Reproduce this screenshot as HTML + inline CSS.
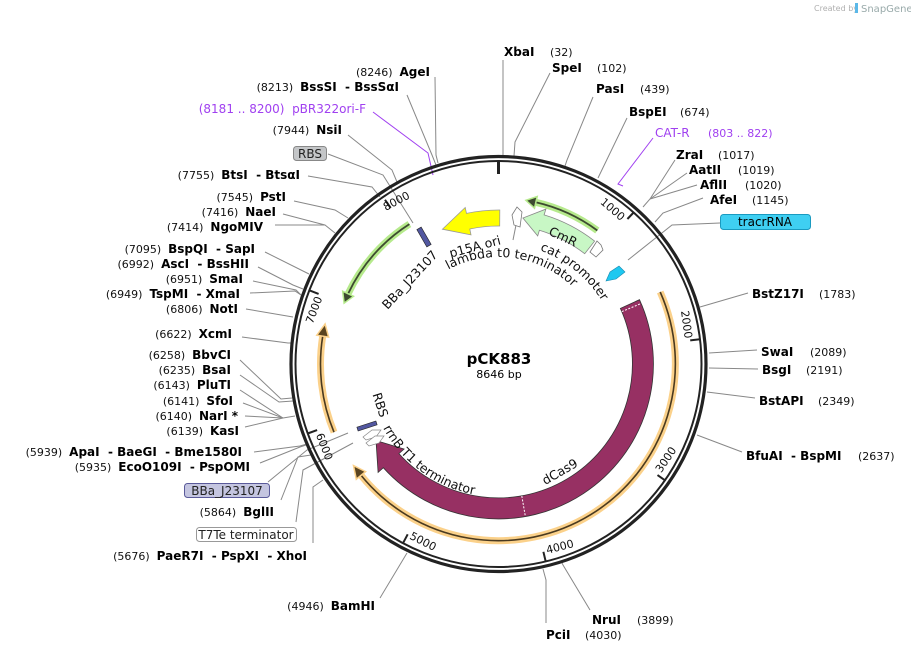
<!DOCTYPE html>
<html><head><meta charset="utf-8"><style>
html,body{margin:0;padding:0;background:#fff;}
svg{display:block;font-family:"DejaVu Sans","Liberation Sans",sans-serif;}
text{white-space:pre;}
.n{font-size:11px;fill:#111;}
.b{font-size:12px;font-weight:bold;fill:#000;}
.l{stroke:#888;stroke-width:1;fill:none;}
.t{font-size:11px;fill:#111;}
.f{font-size:12.5px;fill:#111;}
</style></head><body>
<svg width="911" height="653" viewBox="0 0 911 653" xmlns="http://www.w3.org/2000/svg">
<text x="814" y="11" font-size="8" fill="#b0b0b0">Created by</text>
<rect x="855" y="3" width="3" height="10" fill="#5bb8e8"/>
<text x="861" y="12" font-size="10" fill="#9aa">SnapGene</text>

<!-- connector lines -->
<g class="l">
<polyline points="503,60 503,156"/>
<polyline points="550,73 515,142 514,156"/>
<polyline points="593,97 567,160 565,166"/>
<polyline points="627,118 598,178"/>
<polyline points="675,160 650,199 643,207"/>
<polyline points="687,173 650,199"/>
<polyline points="697,185 650,199"/>
<polyline points="703,198 663,213 655,222"/>
<polyline points="720,223 672,225 628,260"/>
<polyline points="748,293 700,307"/>
<polyline points="757,350 709,353"/>
<polyline points="758,369 709,368"/>
<polyline points="755,398 707,392"/>
<polyline points="742,452 697,435"/>
<polyline points="590,610 563,565 562,563"/>
<polyline points="546,623 546,580 543,569"/>
<polyline points="380,598 407,553"/>
<polyline points="313,543 313,487 323,480"/>
<polyline points="296,522 303,470 353,443"/>
<polyline points="281,500 298,457 311,455"/>
<polyline points="268,482 307,450 348,433"/>
<polyline points="260,463 300,447 306,445"/>
<polyline points="254,452 300,446 307,444"/>
<polyline points="245,427 283,418 295,416"/>
<polyline points="245,416 283,418"/>
<polyline points="243,403 283,418"/>
<polyline points="240,390 283,418"/>
<polyline points="240,375 279,402 293,401"/>
<polyline points="240,360 281,399 292,398"/>
<polyline points="242,337 288,343 291,343"/>
<polyline points="246,309 293,317"/>
<polyline points="250,293 295,291 301,295"/>
<polyline points="253,281 296,290 301,295"/>
<polyline points="258,267 293,285 303,289"/>
<polyline points="265,252 309,274"/>
<polyline points="275,225 325,225 335,233"/>
<polyline points="283,214 325,225"/>
<polyline points="294,201 335,210 348,218"/>
<polyline points="308,176 372,187 380,197"/>
<polyline points="328,154 383,175 413,223"/>
<polyline points="348,135 392,170 397,182"/>
<polyline points="407,95 432,155 436,165"/>
<polyline points="435,77 436,155 438,163"/>
<polyline points="513,240 516,225"/>
</g>
<polyline points="373,112 428,153 433,175" stroke="#a040f0" fill="none" stroke-width="1"/>
<polyline points="653,138 618,184 623,186" stroke="#a040f0" fill="none" stroke-width="1"/>

<!-- backbone -->
<circle cx="498.5" cy="364" r="207.5" fill="none" stroke="#222" stroke-width="3.2"/>
<circle cx="498.5" cy="364" r="203" fill="none" stroke="#222" stroke-width="2"/>
<line x1="498.5" y1="161" x2="498.5" y2="174" stroke="#222" stroke-width="3"/>

<!-- ticks -->
<g stroke="#222" stroke-width="2">
<line x1="634.1" y1="212" x2="627.4" y2="219"/>
<line x1="700.1" y1="339.2" x2="690.2" y2="340.4"/>
<line x1="665.7" y1="480.8" x2="657.5" y2="475.1"/>
<line x1="545.7" y1="561.5" x2="543.4" y2="551.8"/>
<line x1="403.0" y1="543.2" x2="407.7" y2="534.3"/>
<line x1="307.7" y1="433.5" x2="317.1" y2="430.1"/>
<line x1="309.3" y1="290.3" x2="318.6" y2="293.9"/>
<line x1="385.0" y1="199.8" x2="390.7" y2="208.0"/>
</g>
<g class="t">
<text transform="rotate(40.6 498.5 364)" x="498.5" y="176" text-anchor="end">1000</text>
<text transform="rotate(82.3 498.5 364)" x="498.5" y="176" text-anchor="end">2000</text>
<text transform="rotate(123.9 498.5 364) rotate(180 498.5 168)" x="498.5" y="168">3000</text>
<text transform="rotate(165.6 498.5 364) rotate(180 498.5 168)" x="498.5" y="168">4000</text>
<text transform="rotate(207.2 498.5 364) rotate(180 498.5 168)" x="498.5" y="168">5000</text>
<text transform="rotate(248.8 498.5 364) rotate(180 498.5 168)" x="498.5" y="168">6000</text>
<text transform="rotate(290.5 498.5 364)" x="498.5" y="176" text-anchor="end">7000</text>
<text transform="rotate(332.1 498.5 364)" x="498.5" y="176" text-anchor="end">8000</text>
</g>

<!-- orange arcs -->
<path d="M660.2,292 A177 177 0 0 1 361,475.3" fill="none" stroke="#fbd18a" stroke-width="7"/>
<path d="M660.2,292 A177 177 0 0 1 361,475.3" fill="none" stroke="#4a3a20" stroke-width="1.6"/>
<polygon points="353.5,465.6 365.6,471.6 356.3,479.2" fill="#5a4420" stroke="#fbd18a" stroke-width="1.5"/>
<path d="M334,432.2 A178 178 0 0 1 322.7,336.2" fill="none" stroke="#fbd18a" stroke-width="7"/>
<path d="M334,432.2 A178 178 0 0 1 322.7,336.2" fill="none" stroke="#4a3a20" stroke-width="1.6"/>
<polygon points="325.1,324 328.6,337.1 316.8,335.2" fill="#5a4420" stroke="#fbd18a" stroke-width="1.5"/>

<!-- green arcs -->
<path d="M597.3,230.5 A166 166 0 0 0 535.8,202.3" fill="none" stroke="#b6ea8c" stroke-width="7"/>
<path d="M597.3,230.5 A166 166 0 0 0 535.8,202.3" fill="none" stroke="#3d4a30" stroke-width="1.8"/>
<polygon points="525.9,200.3 534.5,208.2 537.2,196.5" fill="#3d4a30" stroke="#b6ea8c" stroke-width="1.5"/>
<path d="M409.4,224.1 A166 166 0 0 0 348.1,293.8" fill="none" stroke="#b6ea8c" stroke-width="7"/>
<path d="M409.4,224.1 A166 166 0 0 0 348.1,293.8" fill="none" stroke="#3d4a30" stroke-width="1.8"/>
<polygon points="344.1,303.1 353.5,296.3 342.7,291.2" fill="#3d4a30" stroke="#b6ea8c" stroke-width="1.5"/>

<!-- dCas9 -->
<path d="M639.5,299.7 A155 155 0 0 1 383.3,467.7 L378.1,472.4 L376,440.6 L404.1,449 L398.9,453.6 A134 134 0 0 0 620.4,308.4 Z" fill="#973063" stroke="#333" stroke-width="0.8"/>
<line x1="621.9" y1="311.6" x2="641.3" y2="303.4" stroke="#fff" stroke-width="1" stroke-dasharray="2,1.5"/>
<line x1="521.8" y1="496" x2="525.4" y2="516.6" stroke="#fff" stroke-width="1" stroke-dasharray="2,1.5"/>

<!-- p15A ori -->
<path d="M499.8,210 A154 154 0 0 0 466.5,213.4 L465.2,207.5 L442.4,229.2 L471,234.9 L469.8,229 A138 138 0 0 1 499.7,226 Z" fill="#ffff00" stroke="#999" stroke-width="0.8"/>
<!-- CmR -->
<path d="M594.6,241.1 A156 156 0 0 0 544.1,214.9 L545.9,209.1 L522.9,218 L537.7,235.9 L539.4,230.2 A140 140 0 0 1 584.7,253.7 Z" fill="#c8f7c5" stroke="#888" stroke-width="0.8"/>
<text class="f" transform="rotate(25 563 237)" x="563" y="241" text-anchor="middle">CmR</text>
<!-- cat promoter -->
<polygon points="590,252 597,241 601,245 603,250 596,257" fill="#fff" stroke="#777" stroke-width="0.8"/>
<!-- lambda t0 -->
<polygon points="512,215 517,207 522,212 520,227 514,225" fill="#fff" stroke="#777" stroke-width="0.8"/>
<!-- tracrRNA -->
<polygon points="606,281 610,272 619,266 625,272 616,279" fill="#1ec8f0" stroke="#1a8ab0" stroke-width="0.6"/>
<!-- BBa_J23107 top -->
<rect x="421.5" y="227" width="5" height="20" transform="rotate(-30 424 237)" fill="#5257a0" stroke="#222" stroke-width="0.6"/>
<!-- RBS / terminators bottom-left -->
<rect x="357" y="424" width="20" height="4" transform="rotate(-18 367 426)" fill="#5257a0" stroke="#222" stroke-width="0.6"/>
<polygon points="363,437 372,430 381,430 376,437 366,440" fill="#fff" stroke="#888" stroke-width="0.7"/>
<polygon points="366,443 375,436 384,436 379,443 369,446" fill="#fff" stroke="#888" stroke-width="0.7"/>

<!-- feature labels -->
<defs>
<path id="lam" d="M448.3,269.5 A107 107 0 0 1 574.2,288.3"/>
<path id="cat" d="M539.9,250.3 A121 121 0 0 1 605.3,307.2"/>
<path id="rrn" d="M383,428 A133 133 0 0 0 498.5,497"/>
</defs>
<text class="f"><textPath href="#lam">lambda t0 terminator</textPath></text>
<text class="f"><textPath href="#cat">cat promoter</textPath></text>
<text class="f"><textPath href="#rrn">rrnB T1 terminator</textPath></text>
<text class="f" transform="rotate(-15 475 247)" x="475" y="251" text-anchor="middle">p15A ori</text>
<text class="f" transform="rotate(-47 410 280)" x="410" y="284" text-anchor="middle">BBa_J23107</text>
<text class="f" transform="rotate(72 380 405)" x="380" y="409" text-anchor="middle">RBS</text>
<text class="f" transform="rotate(-30 560 472)" x="560" y="476" text-anchor="middle">dCas9</text>

<text x="499" y="364" text-anchor="middle" font-size="15" font-weight="bold">pCK883</text>
<text x="499" y="378" text-anchor="middle" font-size="11">8646 bp</text>

<!-- right labels -->
<text class="b" x="504" y="56">XbaI</text><text class="n" x="550" y="56">(32)</text>
<text class="b" x="552" y="72">SpeI</text><text class="n" x="597" y="72">(102)</text>
<text class="b" x="596" y="93">PasI</text><text class="n" x="640" y="93">(439)</text>
<text class="b" x="629" y="116">BspEI</text><text class="n" x="680" y="116">(674)</text>
<text x="655" y="137" font-size="12" fill="#a040f0">CAT-R</text><text x="708" y="137" font-size="11" fill="#a040f0">(803 .. 822)</text>
<text class="b" x="676" y="159">ZraI</text><text class="n" x="718" y="159">(1017)</text>
<text class="b" x="689" y="174">AatII</text><text class="n" x="738" y="174">(1019)</text>
<text class="b" x="700" y="189">AflII</text><text class="n" x="745" y="189">(1020)</text>
<text class="b" x="710" y="204">AfeI</text><text class="n" x="752" y="204">(1145)</text>
<rect x="720.5" y="214.5" width="90" height="15" rx="3" fill="#3fcff2" stroke="#1a9ac0"/>
<text x="765" y="226" font-size="12" text-anchor="middle">tracrRNA</text>
<text class="b" x="752" y="298">BstZ17I</text><text class="n" x="819" y="298">(1783)</text>
<text class="b" x="761" y="356">SwaI</text><text class="n" x="810" y="356">(2089)</text>
<text class="b" x="762" y="374">BsgI</text><text class="n" x="806" y="374">(2191)</text>
<text class="b" x="759" y="405">BstAPI</text><text class="n" x="818" y="405">(2349)</text>
<text class="b" x="746" y="460">BfuAI  - BspMI</text><text class="n" x="858" y="460">(2637)</text>
<text class="b" x="592" y="624">NruI</text><text class="n" x="637" y="624">(3899)</text>
<text class="b" x="546" y="639">PciI</text><text class="n" x="585" y="639">(4030)</text>

<!-- left labels -->
<g text-anchor="end">
<text x="430" y="76"><tspan class="n">(8246)  </tspan><tspan class="b">AgeI</tspan></text>
<text x="399" y="91"><tspan class="n">(8213)  </tspan><tspan class="b">BssSI  - BssSαI</tspan></text>
<text x="366" y="113" font-size="12" fill="#a040f0">(8181 .. 8200)  pBR322ori-F</text>
<text x="342" y="134"><tspan class="n">(7944)  </tspan><tspan class="b">NsiI</tspan></text>
<text x="300" y="179"><tspan class="n">(7755)  </tspan><tspan class="b">BtsI  - BtsαI</tspan></text>
<text x="286" y="201"><tspan class="n">(7545)  </tspan><tspan class="b">PstI</tspan></text>
<text x="276" y="216"><tspan class="n">(7416)  </tspan><tspan class="b">NaeI</tspan></text>
<text x="263" y="231"><tspan class="n">(7414)  </tspan><tspan class="b">NgoMIV</tspan></text>
<text x="255" y="253"><tspan class="n">(7095)  </tspan><tspan class="b">BspQI  - SapI</tspan></text>
<text x="249" y="268"><tspan class="n">(6992)  </tspan><tspan class="b">AscI  - BssHII</tspan></text>
<text x="243" y="283"><tspan class="n">(6951)  </tspan><tspan class="b">SmaI</tspan></text>
<text x="240" y="298"><tspan class="n">(6949)  </tspan><tspan class="b">TspMI  - XmaI</tspan></text>
<text x="238" y="313"><tspan class="n">(6806)  </tspan><tspan class="b">NotI</tspan></text>
<text x="232" y="338"><tspan class="n">(6622)  </tspan><tspan class="b">XcmI</tspan></text>
<text x="231" y="359"><tspan class="n">(6258)  </tspan><tspan class="b">BbvCI</tspan></text>
<text x="231" y="374"><tspan class="n">(6235)  </tspan><tspan class="b">BsaI</tspan></text>
<text x="231" y="389"><tspan class="n">(6143)  </tspan><tspan class="b">PluTI</tspan></text>
<text x="233" y="405"><tspan class="n">(6141)  </tspan><tspan class="b">SfoI</tspan></text>
<text x="238" y="420"><tspan class="n">(6140)  </tspan><tspan class="b">NarI *</tspan></text>
<text x="239" y="435"><tspan class="n">(6139)  </tspan><tspan class="b">KasI</tspan></text>
<text x="242" y="456"><tspan class="n">(5939)  </tspan><tspan class="b">ApaI  - BaeGI  - Bme1580I</tspan></text>
<text x="250" y="471"><tspan class="n">(5935)  </tspan><tspan class="b">EcoO109I  - PspOMI</tspan></text>
<text x="274" y="516"><tspan class="n">(5864)  </tspan><tspan class="b">BglII</tspan></text>
<text x="307" y="560"><tspan class="n">(5676)  </tspan><tspan class="b">PaeR7I  - PspXI  - XhoI</tspan></text>
<text x="375" y="610"><tspan class="n">(4946)  </tspan><tspan class="b">BamHI</tspan></text>
</g>
<rect x="293.5" y="146.5" width="33" height="14" rx="3" fill="#c4c6c8" stroke="#888"/>
<text x="310" y="158" font-size="12" text-anchor="middle" fill="#222">RBS</text>
<rect x="184.5" y="483.5" width="85" height="14" rx="3" fill="#c4c5e0" stroke="#5a5a9a"/>
<text x="227" y="495" font-size="12" text-anchor="middle" fill="#222">BBa_J23107</text>
<rect x="196.5" y="527.5" width="100" height="14" rx="3" fill="#fff" stroke="#999"/>
<text x="246" y="539" font-size="12" text-anchor="middle" fill="#222">T7Te terminator</text>
</svg>
</body></html>
